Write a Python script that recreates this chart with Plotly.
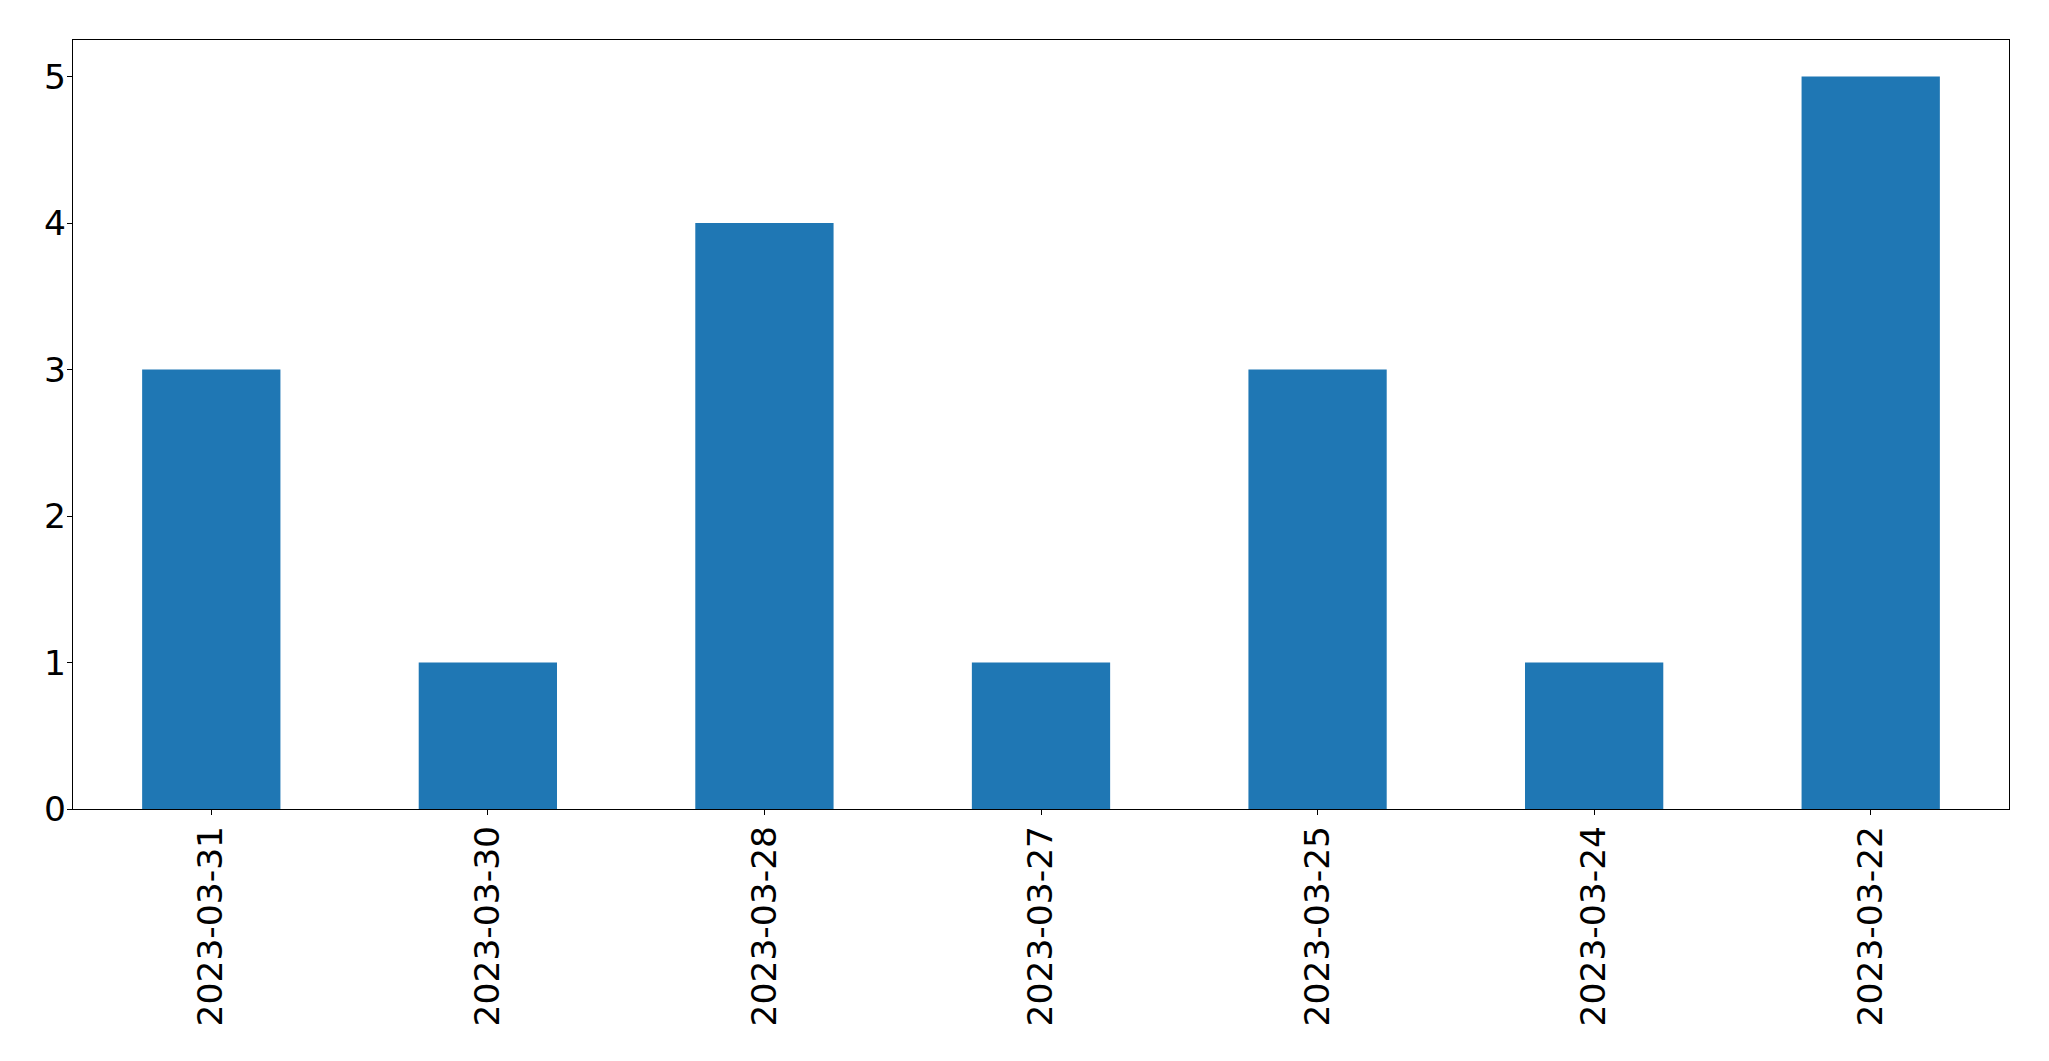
import plotly.graph_objects as go

dates = ["2023-03-31", "2023-03-30", "2023-03-28", "2023-03-27", "2023-03-25", "2023-03-24", "2023-03-22"]
counts = [3, 1, 4, 1, 3, 1, 5]
y_ticks = [0, 1, 2, 3, 4, 5]

fig = go.Figure(go.Bar(x=list(range(len(dates))), y=counts, width=0.5,
                       marker=dict(color="#1f77b4", line=dict(width=0))))

fig.update_layout(
    width=2041, height=1053,
    margin=dict(l=64.5, r=40, t=31.5, b=251.5, autoexpand=False),
    plot_bgcolor="white", paper_bgcolor="white",
    font=dict(family="DejaVu Sans", size=34.5, color="black"),
    showlegend=False,
)
fig.update_xaxes(
    range=[-0.5, len(dates) - 0.5], automargin=False,
    tickmode="array", tickvals=list(range(len(dates))), ticktext=dates,
    tickangle=-90, ticks="outside", ticklen=5, tickwidth=1.3, tickcolor="black",
    showline=True, linecolor="black", linewidth=1.3, mirror=True,
    showgrid=False, zeroline=False, ticklabelstandoff=-3,
)
fig.update_yaxes(
    range=[0, 5.25], tickvals=y_ticks, automargin=False,
    ticks="outside", ticklen=5, tickwidth=1.3, tickcolor="black",
    showline=True, linecolor="black", linewidth=1.3, mirror=True,
    showgrid=False, zeroline=False, ticklabelstandoff=-6,
)
fig.write_html("out.html")
